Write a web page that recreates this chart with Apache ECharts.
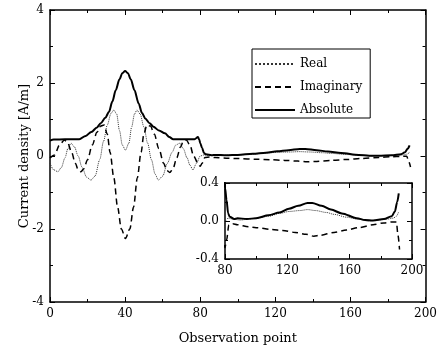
<!DOCTYPE html>
<html>
<head>
<meta charset="utf-8">
<script src="https://cdn.jsdelivr.net/npm/echarts@6/dist/echarts.min.js"></script>
<style>
  html, body { margin: 0; padding: 0; background: #fff; }
  #chart { width: 440px; height: 352px; }
</style>
</head>
<body>
<div id="chart"></div>
<script>
// Current density along the observation points: real, imaginary and absolute parts
const realX = [0, 2, 4.2, 6, 8, 9.5, 11.2, 13, 15, 17, 19.5, 21.8, 24, 26.5, 28.5, 30.5, 32.5, 34, 35.5, 37, 38.5, 40.2,
  42, 43.5, 45, 46.3, 48, 50, 52, 54, 56, 57.7, 60, 62.5, 65, 67, 69.1, 71, 73, 74.5, 76.1, 78, 80, 82,
  85, 90, 95, 100, 108, 115, 121, 128, 133, 138, 145, 150, 158, 165, 172, 178, 184, 188, 190, 191.5];
const realY = [-0.20, -0.38, -0.43, -0.32, -0.05, 0.20, 0.35, 0.25, 0.0, -0.30, -0.58, -0.66, -0.55, -0.10, 0.40, 0.85, 1.17, 1.26, 1.15, 0.70, 0.30, 0.16,
  0.35, 0.80, 1.15, 1.26, 1.15, 0.80, 0.35, -0.10, -0.50, -0.66, -0.55, -0.20, 0.10, 0.30, 0.35, 0.20, -0.05, -0.25, -0.38, -0.20, 0.0, 0.03,
  0.02, 0.01, 0.02, 0.03, 0.05, 0.08, 0.10, 0.11, 0.12, 0.11, 0.09, 0.07, 0.04, 0.02, 0.0, 0.01, 0.02, 0.03, 0.05, 0.10];

const imagX = [0, 2.5, 5, 7.7, 9.5, 11.5, 13.5, 15, 16.5, 18, 20, 22.5, 25, 27, 28.8, 30.5, 32, 34, 36, 38, 40.2,
  42.5, 44.5, 46.5, 48.5, 50, 51.6, 53.5, 55.5, 58, 60.5, 62.3, 63.8, 65.5, 67.5, 69.5, 71, 72.6, 74.5, 76.5, 78.8, 80, 81, 82.5,
  85, 88, 95, 100, 110, 117, 125, 132, 137, 141, 150, 158, 166, 175, 182, 187, 190, 191, 192];
const imagY = [-0.05, 0.03, 0.30, 0.44, 0.35, 0.10, -0.20, -0.38, -0.43, -0.35, -0.10, 0.30, 0.65, 0.82, 0.85, 0.60, 0.10, -0.60, -1.40, -2.00, -2.26,
  -2.00, -1.40, -0.60, 0.10, 0.60, 0.85, 0.82, 0.60, 0.20, -0.20, -0.40, -0.45, -0.35, -0.05, 0.25, 0.40, 0.44, 0.30, 0.0, -0.20, -0.28, -0.20, -0.04,
  -0.03, -0.04, -0.06, -0.07, -0.09, -0.10, -0.12, -0.14, -0.16, -0.15, -0.12, -0.095, -0.07, -0.04, -0.02, -0.01, -0.01, -0.15, -0.30];

const absX = [0, 2, 8, 15.6, 19, 22, 25, 27, 29.5, 31.4, 33.2, 35, 37, 38.5, 40, 41.5, 43, 45, 47.2, 49, 50.7, 53, 55.1, 58, 61.2, 63.5, 65.6,
  72, 77, 78.8, 79.5, 80, 81, 82, 83, 86, 88, 94, 100, 108, 115, 121, 127, 133, 136, 142, 148, 155, 164.5, 170, 175, 182, 187, 189, 190.5, 191.5];
const absY = [0.42, 0.45, 0.46, 0.46, 0.55, 0.66, 0.78, 0.90, 1.05, 1.21, 1.49, 1.80, 2.10, 2.27, 2.33, 2.27, 2.10, 1.80, 1.44, 1.18, 1.03, 0.90, 0.80, 0.70, 0.62, 0.52, 0.46,
  0.46, 0.46, 0.52, 0.45, 0.35, 0.22, 0.08, 0.045, 0.02, 0.03, 0.02, 0.03, 0.06, 0.09, 0.13, 0.16, 0.19, 0.19, 0.16, 0.12, 0.08, 0.03, 0.01, 0.005, 0.02, 0.05, 0.10, 0.20, 0.29];

const mainXTicks = { min: 0, max: 200, interval: 40 };
const mainYTicks = { min: -4, max: 4, interval: 2 };
const insetXTicks = { min: 80, max: 200, interval: 40 };
const insetYTicks = { min: -0.4, max: 0.4, interval: 0.4 };

const seriesNames = ['Real', 'Imaginary', 'Absolute'];

const pairs = (xs, ys) => xs.map((x, i) => [x, ys[i]]);
const FONT = 'DejaVu Serif';

function axisBase(ticks, showLabels, extra) {
  return Object.assign({
    type: 'value',
    min: ticks.min, max: ticks.max, interval: ticks.interval,
    axisLine: { show: true, onZero: false, lineStyle: { color: '#000', width: 1.5 } },
    axisTick: { show: true, inside: true, length: 5, lineStyle: { color: '#000', width: 1 } },
    minorTick: { show: true, splitNumber: 2, length: 3, lineStyle: { color: '#000', width: 1 } },
    splitLine: { show: false },
    axisLabel: { show: showLabels, color: '#000', fontFamily: FONT, fontSize: 12, margin: 6 }
  }, extra || {});
}

const styles = [
  { type: 'dotted', width: 1, color: '#333' },
  { type: [6, 4], width: 1.5, color: '#000' },
  { type: 'solid', width: 2, color: '#000' }
];
const dataSets = [pairs(realX, realY), pairs(imagX, imagY), pairs(absX, absY)];

const series = [];
[0, 2].forEach((axisIdx) => {
  dataSets.forEach((d, i) => {
    series.push({
      name: seriesNames[i], type: 'line', data: d,
      xAxisIndex: axisIdx, yAxisIndex: axisIdx,
      symbol: 'none', smooth: 0.3, smoothMonotone: 'x', clip: true,
      lineStyle: styles[i], itemStyle: { color: styles[i].color },
      z: 3 + i
    });
  });
});

const chart = echarts.init(document.getElementById('chart'), null, { renderer: 'canvas' });
chart.setOption({
  animation: false,
  backgroundColor: '#fff',
  grid: [
    { left: 50, top: 10, width: 379, height: 292 },
    { left: 225, top: 183, width: 187, height: 76, backgroundColor: '#fff', show: true, borderWidth: 0 }
  ],
  xAxis: [
    axisBase(mainXTicks, true, { gridIndex: 0, position: 'bottom',
      name: 'Observation point', nameLocation: 'middle', nameGap: 30, nameMoveOverlap: false,
      nameTextStyle: { color: '#000', fontFamily: FONT, fontSize: 13 } }),
    axisBase(mainXTicks, false, { gridIndex: 0, position: 'top' }),
    axisBase(insetXTicks, true, { gridIndex: 1, position: 'bottom' }),
    axisBase(insetXTicks, false, { gridIndex: 1, position: 'top' })
  ],
  yAxis: [
    axisBase(mainYTicks, true, { gridIndex: 0, position: 'left',
      name: 'Current density [A/m]', nameLocation: 'middle', nameGap: 19, nameMoveOverlap: false,
      nameTextStyle: { color: '#000', fontFamily: FONT, fontSize: 13 } }),
    axisBase(mainYTicks, false, { gridIndex: 0, position: 'right' }),
    axisBase(insetYTicks, true, { gridIndex: 1, position: 'left',
      axisLabel: { show: true, color: '#000', fontFamily: FONT, fontSize: 12, margin: 6,
        formatter: (v) => v.toFixed(1) } }),
    axisBase(insetYTicks, false, { gridIndex: 1, position: 'right' })
  ],
  legend: {
    data: seriesNames,
    orient: 'vertical',
    left: 252, top: 49,
    itemWidth: 40, itemHeight: 12,
    itemGap: 11,
    padding: [9, 8, 2, 2],
    borderColor: '#000', borderWidth: 1,
    itemStyle: { color: 'rgba(0,0,0,0)', borderColor: 'rgba(0,0,0,0)', borderWidth: 0 },
    textStyle: { color: '#000', fontFamily: FONT, fontSize: 12 }
  },
  series: series
});
</script>
</body>
</html>
